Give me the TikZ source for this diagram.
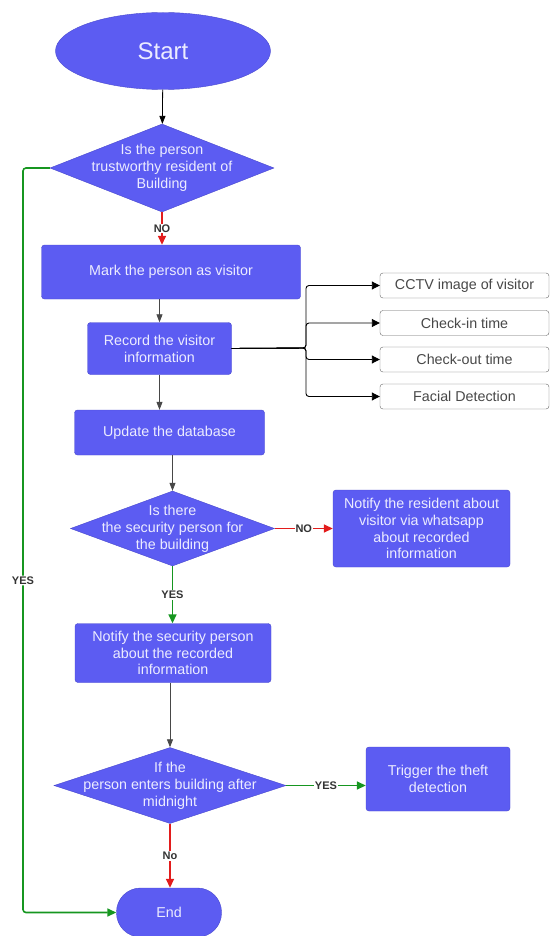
\documentclass[tikz,border=0pt]{standalone}
\usepackage{fontspec}
\setmainfont{Liberation Sans}
\usepackage{xcolor}
\usetikzlibrary{positioning, arrows.meta, shapes, calc}

\definecolor{boxblue}{RGB}{92,92,242}
\definecolor{boxedge}{RGB}{72,72,205}
\definecolor{boxtext}{RGB}{236,236,255}
\definecolor{yesgreen}{RGB}{22,150,32}
\definecolor{nored}{RGB}{226,28,28}
\definecolor{linegray}{RGB}{72,72,72}

\begin{document}
\begin{tikzpicture}[
    x=1pt, y=-1pt,
    font=\fontsize{14.3}{16.8}\selectfont,
    terminal/.style={ellipse, draw=boxedge, fill=boxblue, text=boxtext, inner sep=0pt},
    process/.style={rectangle, rounded corners=3pt, draw=boxedge, fill=boxblue, text=boxtext, align=center, inner sep=0pt},
    decision/.style={diamond, draw=boxedge, fill=boxblue, inner sep=0pt},
    dectext/.style={text=boxtext, align=center},
    record/.style={rectangle, rounded corners=3pt, draw=gray!80!black, fill=white, text=linegray, minimum width=169pt, minimum height=25pt, inner sep=0pt},
    flow/.style={-{Triangle[length=8pt, width=6pt]}, draw=linegray, line width=0.8pt},
    busline/.style={-{Triangle[length=8pt, width=8pt]}, draw=black, line width=0.9pt, rounded corners=3pt},
    yes/.style={-{Triangle[length=9pt, width=8pt]}, draw=yesgreen, line width=1.6pt},
    no/.style={-{Triangle[length=9pt, width=8pt]}, draw=nored, line width=1.6pt},
    tag/.style={font=\fontsize{11}{12}\selectfont\bfseries, text=black!80, fill=white, inner sep=1pt}
]
    \useasboundingbox (0,0) rectangle (550,936);

    \node[terminal, minimum width=215pt, minimum height=77pt, font=\fontsize{24}{28}\selectfont] (start) at (163,51) {Start};
    \node[decision, minimum width=224pt, minimum height=88pt,
          label={[dectext]center:Is the person\\trustworthy resident of\\Building}] (d1) at (162,168) {};
    \node[process, minimum width=259pt, minimum height=54pt] (mark) at (171,272) {Mark the person as visitor};
    \node[process, minimum width=144pt, minimum height=52pt] (rec) at (159.5,348.5) {Record the visitor\\information};
    \node[process, minimum width=190pt, minimum height=45pt] (upd) at (169.5,432.5) {Update the database};
    \node[decision, minimum width=204pt, minimum height=75pt,
          label={[dectext]center:Is there\\the security person for\\the building}] (d2) at (172.5,528.5) {};
    \node[process, minimum width=177pt, minimum height=77pt] (res) at (421.5,528.5) {Notify the resident about\\visitor via whatsapp\\about recorded\\information};
    \node[process, minimum width=196pt, minimum height=59pt] (sec) at (173,653) {Notify the security person\\about the recorded\\information};
    \node[decision, minimum width=232pt, minimum height=76pt,
          label={[dectext]center:If the\\person enters building after\\midnight}] (d3) at (170,785.5) {};
    \node[process, minimum width=144pt, minimum height=64pt] (trig) at (438,779) {Trigger the theft\\detection};
    \node[process, rounded corners=24pt, minimum width=105pt, minimum height=49pt] (end) at (169,912.5) {End};

    % Recorded details
    \node[record] (cctv) at (464.5,285.5) {CCTV image of visitor};
    \node[record] (chin) at (464.5,323) {Check-in time};
    \node[record] (chout) at (464.5,359.5) {Check-out time};
    \node[record] (face) at (464.5,396.5) {Facial Detection};

    \coordinate (bus) at (306,348);
    \coordinate (rail) at (23,168);

    \draw[flow, draw=black] (start) -- (d1);
    \draw[no] (d1.south) -- (d1.south |- mark.north) node[tag, midway] {NO};
    \draw[flow] (rec.north |- mark.south) -- (rec.north);
    \foreach \item in {cctv, chin, chout, face}
        \draw[busline] (rec.east) -- (bus) |- (\item.west);
    \draw[flow] (rec.south) -- (rec.south |- upd.north);
    \draw[flow] (d2.north |- upd.south) -- (d2.north);
    \draw[no] (d2.east) -- (res.west) node[tag, midway] {NO};
    \draw[yes] (d2.south) -- (d2.south |- sec.north) node[tag, midway] {YES};
    \draw[flow] (d3.north |- sec.south) -- (d3.north);
    \draw[yes] (d3.east) -- (d3.east -| trig.west) node[tag, midway] {YES};
    \draw[no] (d3.south) -- (d3.south |- end.north) node[tag, midway] {No};
    \draw[yes, rounded corners=3pt] (d1.west) -- (rail) |- (end.west) node[tag, pos=0.277] {YES};

\end{tikzpicture}
\end{document}
